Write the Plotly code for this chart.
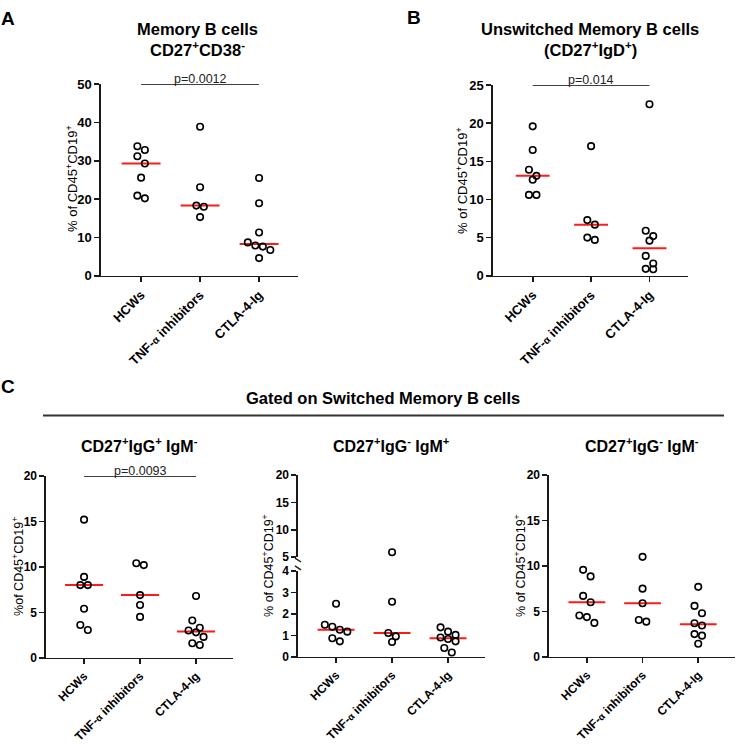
import numpy as np
import plotly.graph_objects as go

# ---------------- data ----------------
CATS = ["HCWs", "TNF-<span style='font-size:0.8em'>α</span> inhibitors", "CTLA-4-Ig"]

# A: Memory B cells CD27+CD38-
a_hcw = [33.8, 32.8, 31.2, 29.3, 25.6, 20.9, 20.2]
a_tnf = [38.9, 23.1, 18.3, 18.0, 15.3]
a_ctla = [25.5, 18.9, 11.3, 8.7, 7.9, 7.6, 6.7, 4.6]

# B: Unswitched memory B cells CD27+IgD+
b_hcw = [19.6, 16.5, 13.9, 13.1, 12.6, 10.6, 10.6]
b_tnf = [17.0, 7.3, 6.7, 5.0, 4.7]
b_ctla = [22.5, 5.9, 5.2, 4.6, 2.6, 1.6, 0.9, 0.85]

# C1: CD27+IgG+ IgM-
c1_hcw = [15.2, 8.9, 8.0, 8.0, 5.4, 3.6, 3.05]
c1_tnf = [10.4, 10.2, 6.9, 5.8, 4.5]
c1_ctla = [6.8, 4.1, 3.3, 3.0, 2.8, 2.3, 1.6, 1.4]

# C2: CD27+IgG- IgM+
c2_hcw = [2.47, 1.49, 1.40, 1.26, 1.17, 0.86, 0.72]
c2_tnf = [5.9, 2.56, 1.11, 0.95, 0.69]
c2_ctla = [1.37, 1.17, 1.02, 0.90, 0.83, 0.72, 0.41, 0.20]

# C3: CD27+IgG- IgM-
c3_hcw = [9.57, 8.85, 6.7, 6.0, 4.55, 4.37, 3.73]
c3_tnf = [11.0, 7.5, 5.9, 4.05, 3.87]
c3_ctla = [7.7, 5.6, 4.8, 3.7, 3.44, 2.5, 2.33, 1.43]

P_A, P_B, P_C1 = "p=0.0012", "p=0.014", "p=0.0093"

# ---------------- layout helpers ----------------
W, H = 736, 744
FONT = "Arial, Liberation Sans, Helvetica, sans-serif"
LW = 1.6
AXC = "#1a1a1a"


def X(p):
    return p / W


def Y(p):
    return 1 - p / H


def swarm_offsets(px_vals, row_h=8.0, spacing=7.5):
    """GraphPad-like scatter: group close values into rows and spread them
    symmetrically. Returns offsets in pixels."""
    vals = np.asarray(px_vals, dtype=float)
    order = np.argsort(-vals, kind="stable")
    offs = np.zeros(len(vals))
    i = 0
    while i < len(order):
        row = [order[i]]
        j = i + 1
        while j < len(order) and vals[order[i]] - vals[order[j]] < row_h:
            row.append(order[j])
            j += 1
        n = len(row)
        for k, idx in enumerate(row):
            offs[idx] = (k - (n - 1) / 2) * spacing
        i = j
    return offs


fig = go.Figure()
layout = dict(
    width=W, height=H, margin=dict(l=0, r=0, t=0, b=0, pad=0),
    paper_bgcolor="white", plot_bgcolor="white", showlegend=False,
    annotations=[], shapes=[],
)


def xaxis_cfg(dom_px, rng, anchor, fs):
    return dict(
        domain=[X(dom_px[0]), X(dom_px[1])], range=list(rng), anchor=anchor,
        tickmode="array", tickvals=[0, 1, 2], ticktext=CATS, tickangle=-45,
        showline=True, linecolor=AXC, linewidth=LW, ticks="outside",
        ticklen=5, tickwidth=LW, tickcolor=AXC, showgrid=False,
        zeroline=False, fixedrange=True,
        tickfont=dict(family=FONT, size=fs, color="black", weight="bold"),
    )


def yaxis_cfg(dom_px, rng, tickvals, anchor, fs):
    return dict(
        domain=[Y(dom_px[1]), Y(dom_px[0])], range=list(rng), anchor=anchor,
        tickmode="array", tickvals=tickvals,
        showline=True, linecolor=AXC, linewidth=LW, ticks="outside",
        ticklen=5, tickwidth=LW, tickcolor=AXC, showgrid=False,
        zeroline=False, fixedrange=True,
        tickfont=dict(family=FONT, size=fs, color="black", weight="bold"),
    )


def add_panel(groups, xa, ya, x_dom, y_dom, yrange, yticks, fs, half_w,
              ya_upper=None, upper_dom=None, upper_range=None, upper_ticks=None,
              split=None):
    xname = "xaxis" if xa == "x" else "xaxis" + xa[1:]
    yname = "yaxis" if ya == "y" else "yaxis" + ya[1:]
    xr = (-0.68, 2.66)
    layout[xname] = xaxis_cfg(x_dom, xr, ya, fs)
    layout[yname] = yaxis_cfg(y_dom, yrange, yticks, xa, fs)
    cat_px = (x_dom[1] - x_dom[0]) / (xr[1] - xr[0])
    lo_ppu = (y_dom[1] - y_dom[0]) / (yrange[1] - yrange[0])
    if ya_upper is not None:
        uname = "yaxis" + ya_upper[1:]
        layout[uname] = yaxis_cfg(upper_dom, upper_range, upper_ticks, xa, fs)
        up_ppu = (upper_dom[1] - upper_dom[0]) / (upper_range[1] - upper_range[0])

    def to_px(v):
        if ya_upper is not None and v > split:
            return (y_dom[1] - upper_dom[1]) + (v - upper_range[0]) * up_ppu
        return (v - yrange[0]) * lo_ppu

    for gi, vals in enumerate(groups):
        vals = np.asarray(vals, dtype=float)
        offs = swarm_offsets([to_px(v) for v in vals]) / cat_px
        xs = gi + offs
        med = float(np.median(vals))
        fig.add_trace(go.Scatter(
            x=[gi - half_w, gi + half_w], y=[med, med], mode="lines",
            line=dict(color="#ff1a1a", width=2), xaxis=xa, yaxis=ya,
            hoverinfo="skip"))
        if ya_upper is not None:
            m_lo = vals <= split
            sets = [(m_lo, ya), (~m_lo, ya_upper)]
        else:
            sets = [(np.ones(len(vals), bool), ya)]
        for mask, yax in sets:
            if mask.sum() == 0:
                continue
            fig.add_trace(go.Scatter(
                x=xs[mask], y=vals[mask], mode="markers", xaxis=xa, yaxis=yax,
                cliponaxis=False,
                marker=dict(symbol="circle-open", size=6.5, color="black",
                            line=dict(width=1.6, color="black"))))


def pbar(xa, ya, ytop, text, fs=12.5):
    layout["shapes"].append(dict(
        type="line", xref=xa, yref=ya, x0=0, x1=2, y0=ytop, y1=ytop,
        line=dict(color="black", width=1.5)))
    layout["annotations"].append(dict(
        x=1, y=ytop, xref=xa, yref=ya, text=text, showarrow=False,
        yanchor="bottom", yshift=-4,
        font=dict(family=FONT, size=fs, color="#222")))


def ann(xp, yp, text, size, bold=True, angle=0, color="black"):
    layout["annotations"].append(dict(
        x=X(xp), y=Y(yp), xref="paper", yref="paper", text=text,
        showarrow=False, textangle=angle, xanchor="center", yanchor="middle",
        font=dict(family=FONT, size=size, color=color,
                  weight="bold" if bold else "normal")))


YT = "% of CD45<sup>+</sup>CD19<sup>+</sup>"
TS = 16.5  # title size

# Panel A
add_panel([a_hcw, a_tnf, a_ctla], "x", "y", (101, 298), (79, 275), (0, 50),
          [0, 10, 20, 30, 40, 50], 13, 0.33)
pbar("x", "y", 50, P_A)
ann(8, 12, "A", 19)
ann(198, 23, "Memory B cells", TS)
ann(198, 43, "CD27<sup>+</sup>CD38<sup>-</sup>", TS)
ann(72, 176, YT, 13, bold=False, angle=-90)

# Panel B
add_panel([b_hcw, b_tnf, b_ctla], "x2", "y2", (493, 688), (80, 275), (0, 25),
          [0, 5, 10, 15, 20, 25], 13, 0.29)
pbar("x2", "y2", 25, P_B)
ann(414, 11, "B", 19)
ann(590, 23, "Unswitched Memory B cells", TS)
ann(590, 43, "(CD27<sup>+</sup>IgD<sup>+</sup>)", TS)
ann(462, 177, YT, 13, bold=False, angle=-90)

# Panel C header
ann(8, 388, "C", 19)
ann(383, 400, "Gated on Switched Memory B cells", TS)
layout["shapes"].append(dict(type="line", xref="paper", yref="paper",
                             x0=X(43), x1=X(724), y0=Y(418), y1=Y(418),
                             line=dict(color="#333", width=2)))

# C1
add_panel([c1_hcw, c1_tnf, c1_ctla], "x3", "y3", (46, 233), (480, 666), (0, 20),
          [0, 5, 10, 15, 20], 12, 0.34)
pbar("x3", "y3", 20, P_C1)
ann(139, 448, "CD27<sup>+</sup>IgG<sup>+</sup> IgM<sup>-</sup>", 16)
ann(18, 573, "%of CD45<sup>+</sup>CD19<sup>+</sup>", 12.5, bold=False, angle=-90)

# C2 (broken axis)
add_panel([c2_hcw, c2_tnf, c2_ctla], "x4", "y4", (298, 485), (577, 665), (0, 4),
          [0, 1, 2, 3, 4], 12, 0.33, ya_upper="y5", upper_dom=(479, 563),
          upper_range=(5, 20), upper_ticks=[5, 10, 15, 20], split=4.5)
for yy in (566, 574):
    layout["shapes"].append(dict(type="line", xref="paper", yref="paper",
                                 x0=X(295), x1=X(301), y0=Y(yy - 2), y1=Y(yy + 2),
                                 line=dict(color=AXC, width=1.4)))
ann(391, 448, "CD27<sup>+</sup>IgG<sup>-</sup> IgM<sup>+</sup>", 16)
ann(268, 572, YT, 12.5, bold=False, angle=-90)

# C3
add_panel([c3_hcw, c3_tnf, c3_ctla], "x6", "y6", (549, 735), (479, 665), (0, 20),
          [0, 5, 10, 15, 20], 12, 0.33)
ann(642, 448, "CD27<sup>+</sup>IgG<sup>-</sup> IgM<sup>-</sup>", 16)
ann(520, 572, YT, 12.5, bold=False, angle=-90)

fig.update_layout(**layout)
fig.write_html("out.html",
               config={"displayModeBar": False, "staticPlot": True},
               post_script="document.body.style.margin='0px';"
                           "document.body.style.overflow='hidden';")
